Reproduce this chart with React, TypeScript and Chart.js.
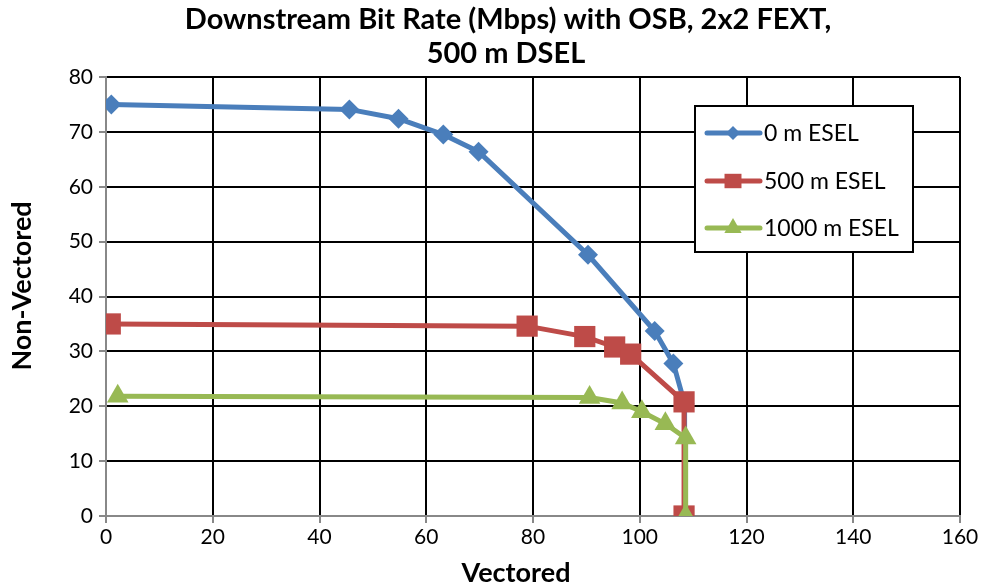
import React, { useEffect, useRef } from "react";
import { Chart, registerables } from "chart.js";

Chart.register(...registerables);

const TITLE_LINES = ["Downstream Bit Rate (Mbps) with OSB, 2x2 FEXT,", "500 m DSEL"];
const X_TITLE = "Vectored";
const Y_TITLE = "Non-Vectored";
const SERIES_NAMES = ["0 m ESEL", "500 m ESEL", "1000 m ESEL"];

const esel0X = [1, 45.6, 54.8, 63.2, 69.8, 90.3, 102.8, 106.3, 108.4, 108.4];
const esel0Y = [75.0, 74.1, 72.4, 69.5, 66.4, 47.6, 33.7, 27.8, 20.5, 0];
const esel500X = [0.8, 78.9, 89.7, 95.3, 98.3, 108.3, 108.3];
const esel500Y = [35.0, 34.6, 32.7, 30.8, 29.5, 20.8, 0];
const esel1000X = [2.2, 90.6, 96.7, 100.4, 104.8, 108.6, 108.6];
const esel1000Y = [21.8, 21.6, 20.6, 19.0, 16.8, 14.2, 0];

const X_MIN = 0, X_MAX = 160, X_STEP = 20;
const Y_MIN = 0, Y_MAX = 80, Y_STEP = 10;

const COLORS = ["#4A7EBB", "#BE4B48", "#98B954"];
const MARKERS = ["rectRot", "rect", "triangle"];
const MARKER_R = [10, 15, 12.5];
const FONT = "Lato, 'Open Sans', sans-serif";

const toPts = (xs: number[], ys: number[]) => xs.map((x, i) => ({ x, y: ys[i] }));

function drawMarker(ctx: CanvasRenderingContext2D, style: string, r: number, x: number, y: number, color: string) {
  ctx.fillStyle = color;
  ctx.beginPath();
  if (style === "rectRot") {
    ctx.moveTo(x, y - r);
    ctx.lineTo(x + r, y);
    ctx.lineTo(x, y + r);
    ctx.lineTo(x - r, y);
  } else if (style === "rect") {
    const s = r * Math.SQRT1_2;
    ctx.rect(x - s, y - s * 0.85, 2 * s, 2 * s * 0.85);
  } else {
    const h = r * 1.5;
    const half = (r * Math.sqrt(3)) / 2;
    ctx.moveTo(x, y - r);
    ctx.lineTo(x + half, y - r + h);
    ctx.lineTo(x - half, y - r + h);
  }
  ctx.closePath();
  ctx.fill();
}

const decorPlugin = {
  id: "decor",
  afterDraw(chart: any) {
    const ctx = chart.ctx;
    ctx.save();
    // chart title
    ctx.fillStyle = "#000";
    ctx.font = `bold 29px ${FONT}`;
    ctx.textAlign = "center";
    ctx.textBaseline = "alphabetic";
    ctx.fillText(TITLE_LINES[0], 508, 29);
    ctx.fillText(TITLE_LINES[1], 506, 63);

    // axis titles
    ctx.font = `bold 27px ${FONT}`;
    ctx.fillText(X_TITLE, 516, 582);
    ctx.save();
    ctx.translate(31, 286);
    ctx.rotate(-Math.PI / 2);
    ctx.fillText(Y_TITLE, 0, 0);
    ctx.restore();

    // legend
    const bx = 695, by = 106, bw = 218, bh = 146;
    ctx.fillStyle = "#fff";
    ctx.fillRect(bx, by, bw, bh);
    ctx.strokeStyle = "#000";
    ctx.lineWidth = 2;
    ctx.strokeRect(bx, by, bw, bh);
    const rows = [133, 181, 228];
    ctx.font = `23px ${FONT}`;
    ctx.textAlign = "left";
    ctx.textBaseline = "middle";
    SERIES_NAMES.forEach((name, i) => {
      const y = rows[i];
      ctx.strokeStyle = COLORS[i];
      ctx.lineWidth = 5;
      ctx.lineCap = "round";
      ctx.beginPath();
      ctx.moveTo(707, y);
      ctx.lineTo(760, y);
      ctx.stroke();
      const r = [7, 12, 10][i];
      drawMarker(ctx, MARKERS[i], r, 733, y, COLORS[i]);
      ctx.fillStyle = "#000";
      ctx.fillText(name, 764, y + 1);
    });
    ctx.restore();
  },
};

export default function App() {
  const ref = useRef<HTMLCanvasElement>(null);
  useEffect(() => {
    if (!ref.current) return;
    const seriesX = [esel0X, esel500X, esel1000X];
    const seriesY = [esel0Y, esel500Y, esel1000Y];
    const chart = new Chart(ref.current, {
      type: "scatter",
      data: {
        datasets: SERIES_NAMES.map((name, i) => ({
          label: name,
          data: toPts(seriesX[i], seriesY[i]),
          showLine: true,
          order: 3 - i,
          borderColor: COLORS[i],
          backgroundColor: COLORS[i],
          borderWidth: 5,
          pointStyle: MARKERS[i] as any,
          pointRadius: MARKER_R[i],
          pointBorderWidth: 0,
          pointBorderColor: COLORS[i],
          pointBackgroundColor: COLORS[i],
          tension: 0,
        })),
      },
      options: {
        responsive: false,
        animation: false,
        layout: { padding: { top: 77, right: 24, left: 0, bottom: 0 } },
        plugins: {
          legend: { display: false },
          title: { display: false },
          tooltip: { enabled: false },
        },
        scales: {
          x: {
            type: "linear",
            min: X_MIN,
            max: X_MAX,
            ticks: { stepSize: X_STEP, color: "#000", font: { size: 21, family: FONT }, padding: 2 },
            grid: { color: "#000", lineWidth: 2, tickColor: "#888", tickLength: 7, drawOnChartArea: true },
            border: { color: "#888", width: 2 },
            title: { display: false },
            afterFit: (s: any) => { s.height = 71; },
          },
          y: {
            type: "linear",
            min: Y_MIN,
            max: Y_MAX,
            ticks: { stepSize: Y_STEP, color: "#000", font: { size: 21, family: FONT }, padding: 6 },
            grid: { color: "#000", lineWidth: 2, tickColor: "#888", tickLength: 7 },
            border: { color: "#888", width: 2 },
            title: { display: false },
            afterFit: (s: any) => { s.width = 106; },
          },
        },
      },
      plugins: [decorPlugin],
    });
    return () => chart.destroy();
  }, []);
  return (
    <div style={{ position: "absolute", left: 0, top: 0, width: 984, height: 587, background: "#fff" }}>
      <canvas ref={ref} width={984} height={587} />
    </div>
  );
}
